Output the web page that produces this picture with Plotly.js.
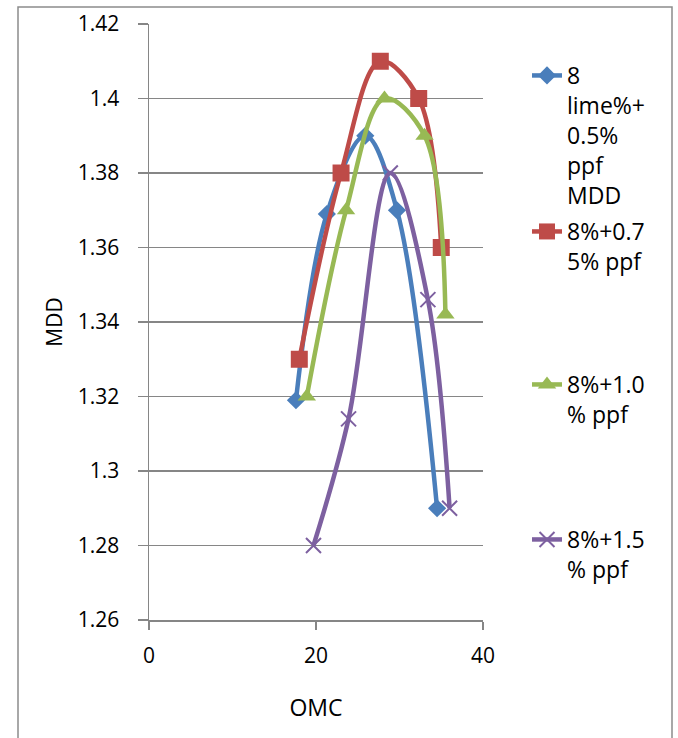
<!DOCTYPE html>
<html>
<head>
<meta charset="utf-8">
<script src="https://cdn.plot.ly/plotly-3.0.1.min.js"></script>
<style>html,body{margin:0;padding:0;background:#fff;}#chart{width:678px;height:738px;}</style>
</head>
<body>
<div id="chart"></div>
<script>
// Data
const seriesNames = [
  "8<br>lime%+<br>0.5%<br>ppf<br>MDD",
  "8%+0.7<br>5% ppf",
  "8%+1.0<br>% ppf",
  "8%+1.5<br>% ppf"
];
const omc_05 = [17.6, 21.3, 25.9, 29.7, 34.5];
const mdd_05 = [1.319, 1.369, 1.39, 1.37, 1.29];
const omc_075 = [18.0, 23.0, 27.7, 32.3, 35.0];
const mdd_075 = [1.33, 1.38, 1.41, 1.40, 1.36];
const omc_10 = [18.9, 23.6, 28.2, 33.0, 35.5];
const mdd_10 = [1.32, 1.37, 1.40, 1.39, 1.342];
const omc_15 = [19.7, 23.9, 28.9, 33.4, 36.0];
const mdd_15 = [1.28, 1.314, 1.38, 1.346, 1.29];
const yTickVals = [1.26, 1.28, 1.30, 1.32, 1.34, 1.36, 1.38, 1.40, 1.42];
const yTickText = ["1.26", "1.28", "1.3", "1.32", "1.34", "1.36", "1.38", "1.4", "1.42"];
const xTickVals = [0, 20, 40];
const xTickText = ["0", "20", "40"];

const FONT = "Open Sans, DejaVu Sans, sans-serif";
const colors = ["#4A7EBB", "#BE4B48", "#98B954", "#7D60A0"];

function mk(x, y, name, color, symbol, size, legendId, extraMarker) {
  return {
    x: x, y: y, name: name, type: "scatter", mode: "lines+markers",
    legend: legendId,
    line: {color: color, width: 4.5, shape: "spline", smoothing: 1},
    marker: Object.assign({color: color, symbol: symbol, size: size}, extraMarker || {}),
    cliponaxis: false
  };
}

const traces = [
  mk(omc_05, mdd_05, seriesNames[0], colors[0], "diamond", 14, "legend"),
  mk(omc_075, mdd_075, seriesNames[1], colors[1], "square", 17, "legend2"),
  mk(omc_10, mdd_10, seriesNames[2], colors[2], "triangle-up", 16, "legend3"),
  mk(omc_15, mdd_15, seriesNames[3], colors[3], "x-thin", 15, "legend4", {line: {color: colors[3], width: 2}})
];

const L = 149, R = 483, T = 24, B = 620;
const W = R - L, H = B - T;
function px2x(p) { return (p - L) / W; }
function px2y(p) { return (B - p) / H; }

function legendAt(topPx) {
  return {
    x: px2x(527), xanchor: "left",
    y: px2y(topPx), yanchor: "top",
    bgcolor: "rgba(0,0,0,0)",
    font: {family: FONT, size: 23, color: "#000"},
    valign: "top",
    itemwidth: 30
  };
}

const layout = {
  width: 678, height: 738,
  margin: {l: L, r: 678 - R, t: T, b: 738 - B},
  paper_bgcolor: "#fff", plot_bgcolor: "#fff",
  font: {family: FONT, size: 21, color: "#000"},
  showlegend: true,
  legend: legendAt(54),
  legend2: legendAt(210),
  legend3: legendAt(363),
  legend4: legendAt(518),
  xaxis: {
    range: [0, 40], tickmode: "array", tickvals: xTickVals, ticktext: xTickText,
    showgrid: false, zeroline: false, showline: true, linecolor: "#868686", linewidth: 1.5,
    ticks: "outside", ticklen: 8, tickcolor: "#868686", tickwidth: 1.5,
    ticklabelstandoff: 8,
    tickfont: {family: FONT, size: 21, color: "#000"},
    title: {text: "OMC", font: {family: FONT, size: 23, color: "#000"}, standoff: 32}
  },
  yaxis: {
    range: [1.26, 1.42], tickmode: "array", tickvals: yTickVals, ticktext: yTickText,
    showgrid: true, gridcolor: "#868686", gridwidth: 1.3,
    zeroline: false, showline: true, linecolor: "#868686", linewidth: 1.5,
    ticks: "outside", ticklen: 10, tickcolor: "#868686", tickwidth: 1.5,
    ticklabelstandoff: 14,
    tickfont: {family: FONT, size: 21, color: "#000"},
    title: {text: "MDD", font: {family: FONT, size: 21, color: "#000"}, standoff: 9}
  },
  shapes: [{
    type: "rect", xref: "paper", yref: "paper",
    x0: px2x(18), x1: px2x(672), y0: px2y(760), y1: px2y(7),
    line: {color: "#8c8c8c", width: 1.5}, fillcolor: "rgba(0,0,0,0)", layer: "below"
  }]
};

Plotly.newPlot("chart", traces, layout, {staticPlot: true, displayModeBar: false});
</script>
</body>
</html>
